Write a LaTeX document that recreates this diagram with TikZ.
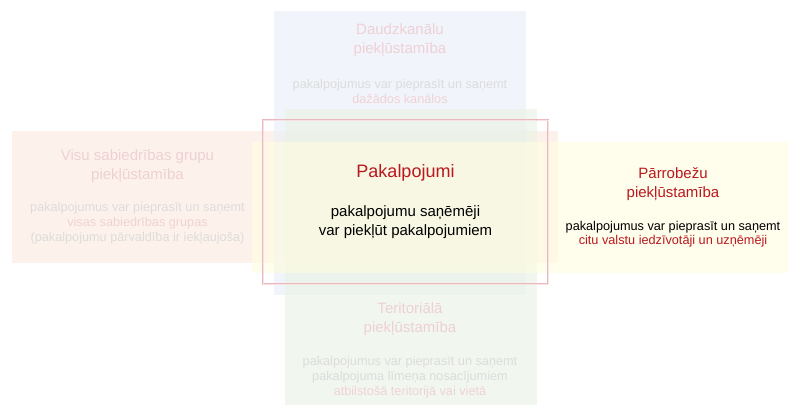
\documentclass[tikz,border=0pt]{standalone}
\usepackage{fontspec}
\setmainfont{Liberation Sans}
\definecolor{cblue}{RGB}{232,239,249}
\definecolor{cgreen}{RGB}{232,243,227}
\definecolor{corange}{RGB}{253,234,223}
\definecolor{cyellow}{RGB}{255,252,224}
\definecolor{fadetitle}{RGB}{238,208,212}
\definecolor{fadebody}{RGB}{220,220,220}
\definecolor{fadehl}{RGB}{240,210,212}
\definecolor{strongred}{RGB}{185,25,30}
\definecolor{frame}{RGB}{234,184,189}
\definecolor{frameinner}{RGB}{247,226,228}
\tikzset{
  panel/.style={fill=#1, fill opacity=0.6, draw=none},
  ttl/.style={align=center, inner sep=0pt, font=\fontsize{15}{18.5}\selectfont},
  bdy/.style={align=center, inner sep=0pt, font=\fontsize{12.7}{15}\selectfont},
}
\begin{document}
\begin{tikzpicture}[x=1pt,y=-1pt]
\useasboundingbox (0,0) rectangle (800,416);
\fill[white] (0,0) rectangle (800,416);
% panels
\fill[panel=corange] (12,131) rectangle (558,263);
\fill[panel=cblue] (274,11) rectangle (526,295);
\fill[panel=cgreen] (285,109) rectangle (537,405);
\fill[panel=cyellow] (252,142) rectangle (788,273);
\draw[draw=frame, line width=0.7pt, double=frameinner, double distance=0.7pt] (263,120) rectangle (548,284);
% blue: Daudzkanalu
\node[ttl, text=fadetitle] (t1) at (400,40) {Daudzkanālu\\piekļūstamība};
\node[bdy, text=fadebody] (b1) at (400,91) {pakalpojumus var pieprasīt un saņemt\\\textcolor{fadehl}{dažādos kanālos}};
% orange: Visu sabiedribas
\node[ttl, text=fadetitle] (t2) at (137.5,166) {Visu sabiedrības grupu\\piekļūstamība};
\node[bdy, text=fadebody] (b2) at (137.5,223) {pakalpojumus var pieprasīt un saņemt\\\textcolor{fadehl}{visas sabiedrības grupas}\\(pakalpojumu pārvaldība ir iekļaujoša)};
% green: Teritoriala
\node[ttl, text=fadetitle] (t3) at (410,319) {Teritoriālā\\piekļūstamība};
\node[bdy, text=fadebody] (b3) at (410,377) {pakalpojumus var pieprasīt un saņemt\\pakalpojuma līmeņa nosacījumiem\\\textcolor{fadehl}{atbilstošā teritorijā vai vietā}};
% yellow: Parrobezu
\node[ttl, text=strongred] (t4) at (673,184) {Pārrobežu\\piekļūstamība};
\node[bdy, text=black, font=\fontsize{12.7}{14}\selectfont] (b4) at (673,234.5) {pakalpojumus var pieprasīt un saņemt\\\textcolor{strongred}{citu valstu iedzīvotāji un uzņēmēji}};
% center: Pakalpojumi
\node[inner sep=0pt, text=strongred, font=\fontsize{18}{21}\selectfont] (t0) at (405.5,173) {Pakalpojumi};
\node[align=center, inner sep=0pt, font=\fontsize{15}{18.5}\selectfont] (b0) at (405.5,222) {pakalpojumu saņēmēji\\var piekļūt pakalpojumiem};
\end{tikzpicture}
\end{document}
